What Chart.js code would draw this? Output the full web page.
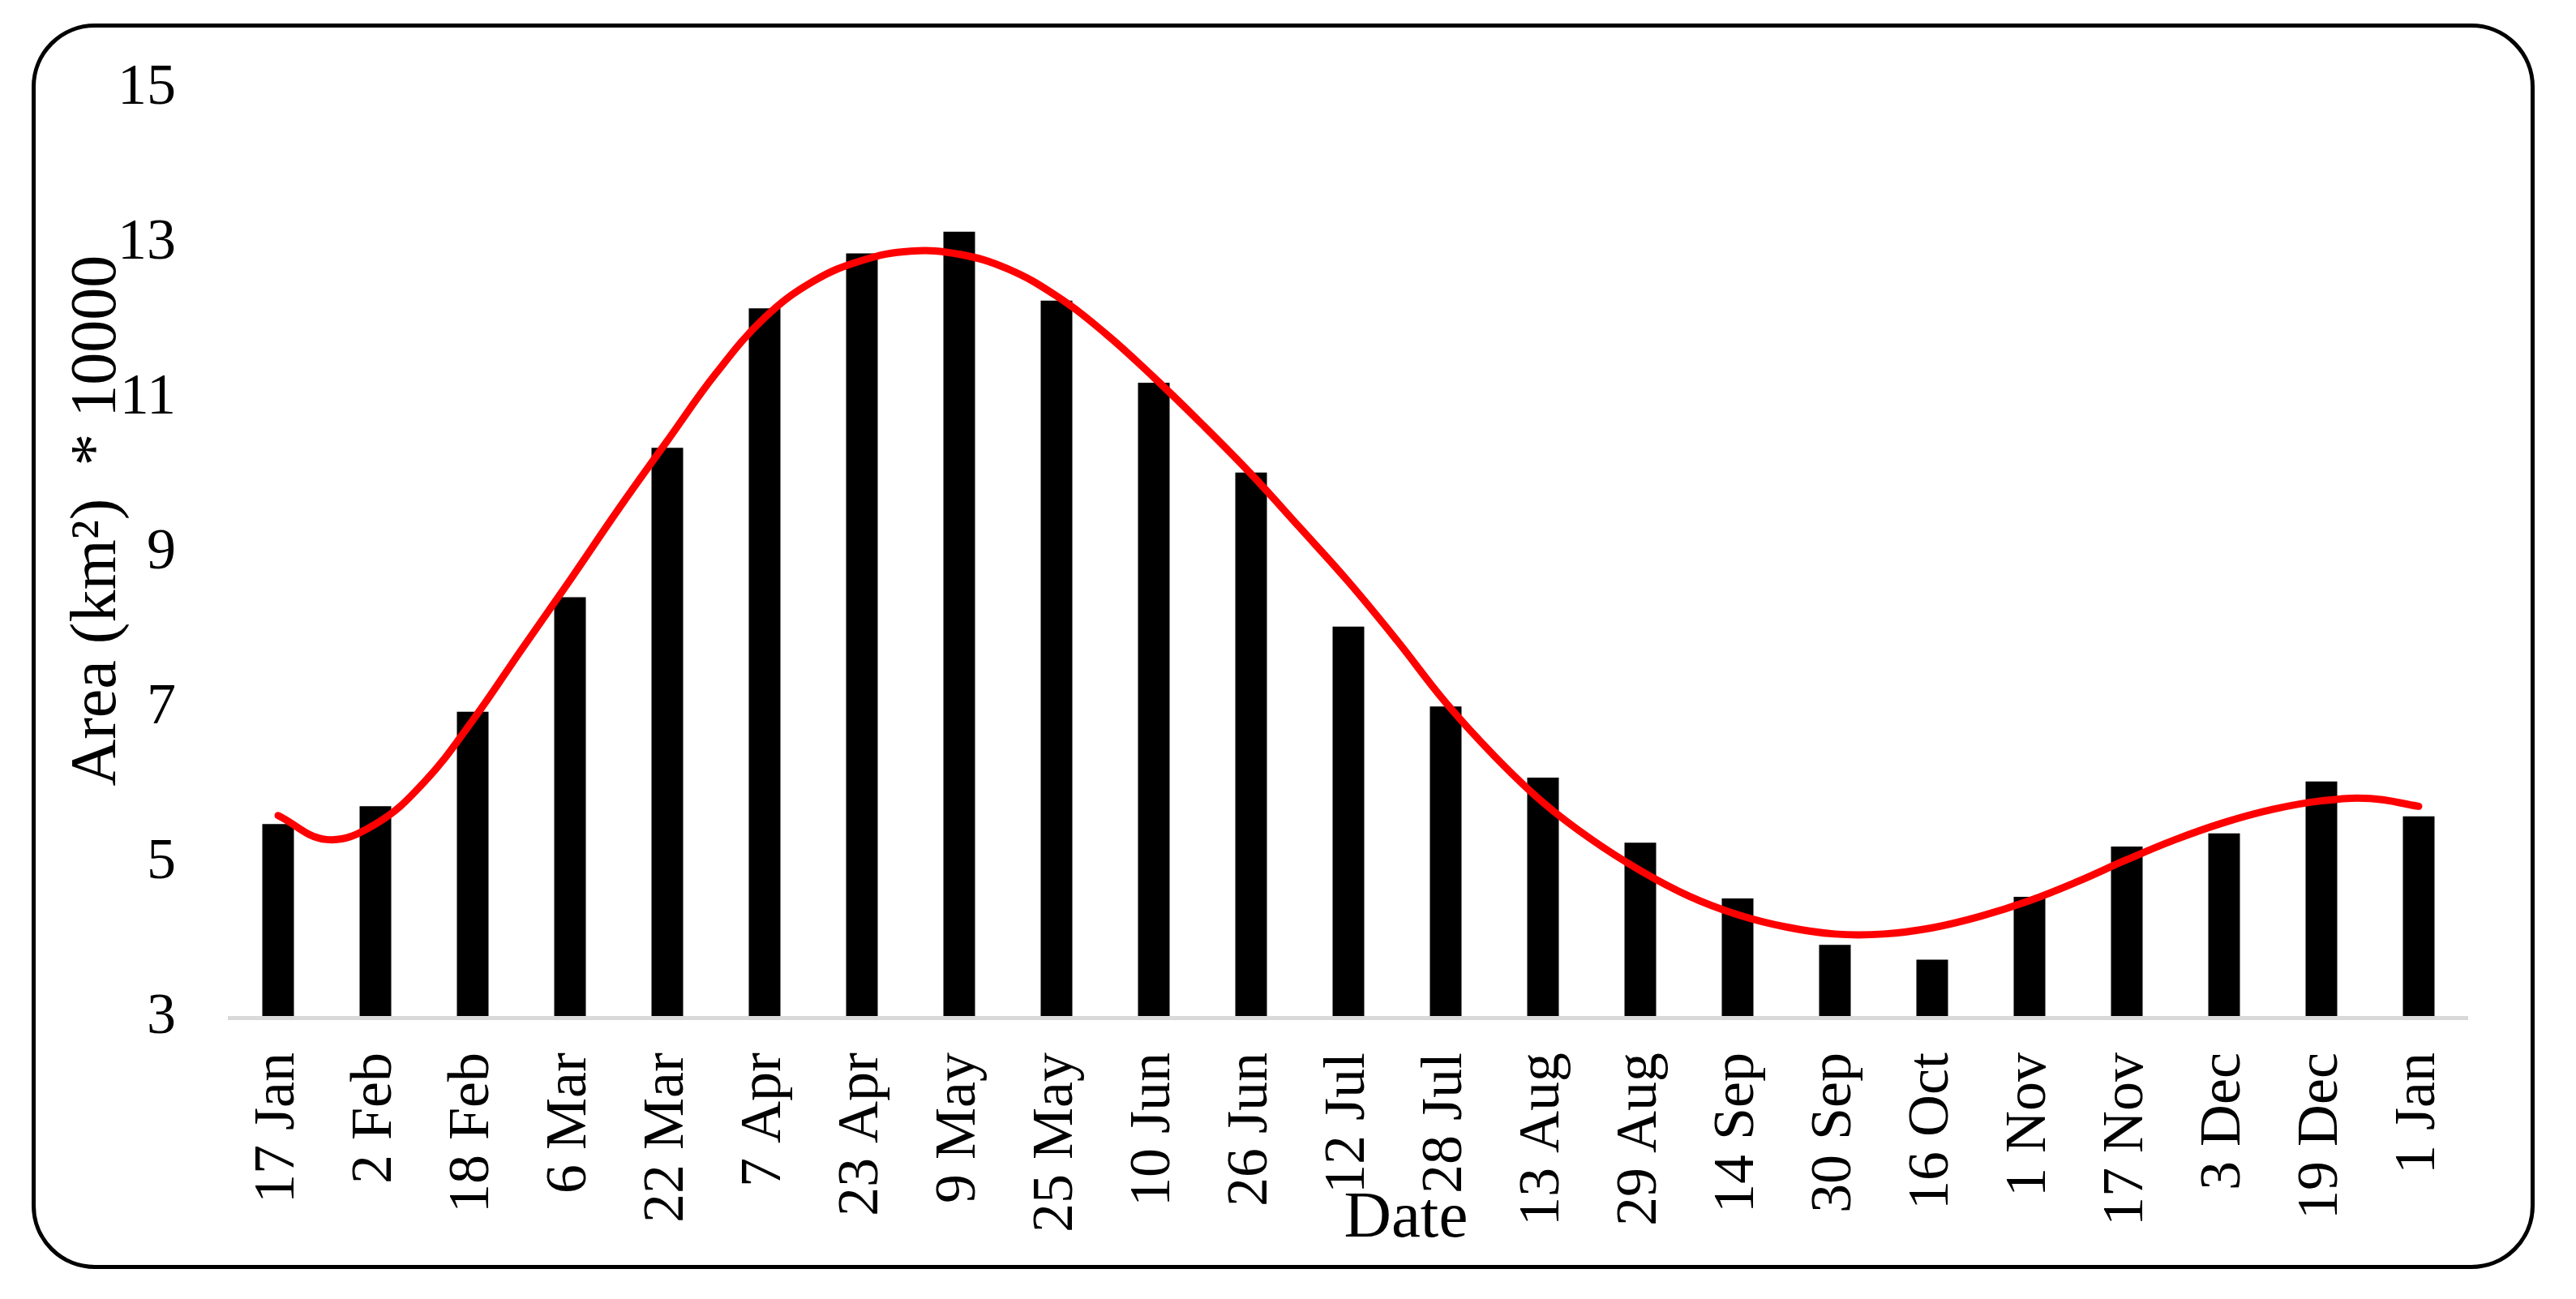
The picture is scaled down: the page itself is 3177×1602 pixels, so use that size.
<!DOCTYPE html>
<html>
<head>
<meta charset="utf-8">
<script src="https://cdn.jsdelivr.net/npm/chart.js@4.4.1/dist/chart.umd.min.js"></script>
<style>
html,body{margin:0;padding:0;background:#fff;}
#wrap{position:relative;width:3177px;height:1602px;overflow:hidden;background:#fff;}
#frame{position:absolute;left:39px;top:29px;width:3087px;height:1536px;box-sizing:border-box;border:5px solid #000;border-radius:78px;}
canvas{position:absolute;left:0;top:0;}
</style>
</head>
<body>
<div id="wrap"><div id="frame"></div><canvas id="c" width="3177" height="1602"></canvas></div>
<script>
const categories = ['17 Jan','2 Feb','18 Feb','6 Mar','22 Mar','7 Apr','23 Apr','9 May','25 May','10 Jun','26 Jun','12 Jul','28 Jul','13 Aug','29 Aug','14 Sep','30 Sep','16 Oct','1 Nov','17 Nov','3 Dec','19 Dec','1 Jan'];
const areaValues = [5.50,5.73,6.95,8.43,10.36,12.16,12.87,13.15,12.26,11.20,10.04,8.05,7.02,6.10,5.26,4.54,3.94,3.75,4.56,5.21,5.38,6.05,5.60];
const trendX = [0,0.5,1,1.5,2,2.5,3,3.5,4,4.5,5,5.5,6,6.5,7,7.5,8,8.5,9,9.5,10,10.5,11,11.5,12,12.5,13,13.5,14,14.5,15,15.5,16,16.5,17,17.5,18,18.5,19,19.5,20,20.5,21,21.5,22];
const trendY = [5.61,5.30,5.50,6.04,6.84,7.75,8.65,9.57,10.45,11.32,12.04,12.51,12.78,12.90,12.86,12.67,12.32,11.84,11.27,10.66,10.02,9.33,8.63,7.87,7.07,6.38,5.78,5.30,4.90,4.57,4.33,4.17,4.08,4.08,4.16,4.31,4.51,4.76,5.04,5.30,5.52,5.69,5.80,5.83,5.73];
const yTicks = [3,5,7,9,11,13,15];
const yTitle = 'Area (km\u00B2)  * 10000';
const xTitle = 'Date';

Chart.defaults.font.family = "'Liberation Serif', 'Times New Roman', serif";
Chart.defaults.color = '#000';

const trendPoints = trendX.map((x, i) => ({x: x, y: trendY[i]}));
const NB = '\u00A0';

new Chart(document.getElementById('c'), {
  data: {
    labels: categories,
    datasets: [
      {
        type: 'line',
        data: trendPoints,
        xAxisID: 'xc',
        yAxisID: 'y',
        borderColor: '#FF0000',
        borderWidth: 9,
        pointRadius: 0,
        tension: 0.4,
        fill: false,
        borderCapStyle: 'round',
        borderJoinStyle: 'round',
        order: 0
      },
      {
        type: 'bar',
        data: areaValues,
        xAxisID: 'x',
        yAxisID: 'y',
        backgroundColor: '#000',
        borderWidth: 0,
        grouped: false,
        barPercentage: 0.325,
        categoryPercentage: 1.0,
        order: 1
      }
    ]
  },
  options: {
    responsive: false,
    devicePixelRatio: 1,
    animation: false,
    layout: {padding: {left: 0, right: 134, top: 108, bottom: 0}},
    plugins: {legend: {display: false}, tooltip: {enabled: false}},
    scales: {
      x: {
        type: 'category',
        position: 'bottom',
        offset: true,
        grid: {display: false, drawTicks: false},
        border: {display: true, color: '#D9D9D9', width: 5, z: 1},
        ticks: {font: {size: 72}, color: '#000', padding: 43, minRotation: 90, maxRotation: 90, autoSkip: false},
        title: {display: true, text: NB.repeat(7) + xTitle, color: '#000', font: {size: 81}, padding: {top: 0, bottom: 50}},
        afterFit: s => { s.height = 347; }
      },
      xc: {
        type: 'linear',
        position: 'bottom',
        display: false,
        offset: false,
        min: -0.5,
        max: 22.5
      },
      y: {
        type: 'linear',
        position: 'left',
        min: 3,
        max: 15,
        grid: {display: false, drawTicks: false},
        border: {display: false},
        ticks: {font: {size: 72}, color: '#000', padding: 66, stepSize: 2},
        afterBuildTicks: s => { s.ticks = yTicks.map(v => ({value: v})); },
        title: {display: true, text: NB.repeat(4) + yTitle, color: '#000', font: {size: 80}, padding: {top: 73, bottom: 0}},
        afterFit: s => { s.width = 283; }
      }
    }
  }
});
</script>
</body>
</html>
